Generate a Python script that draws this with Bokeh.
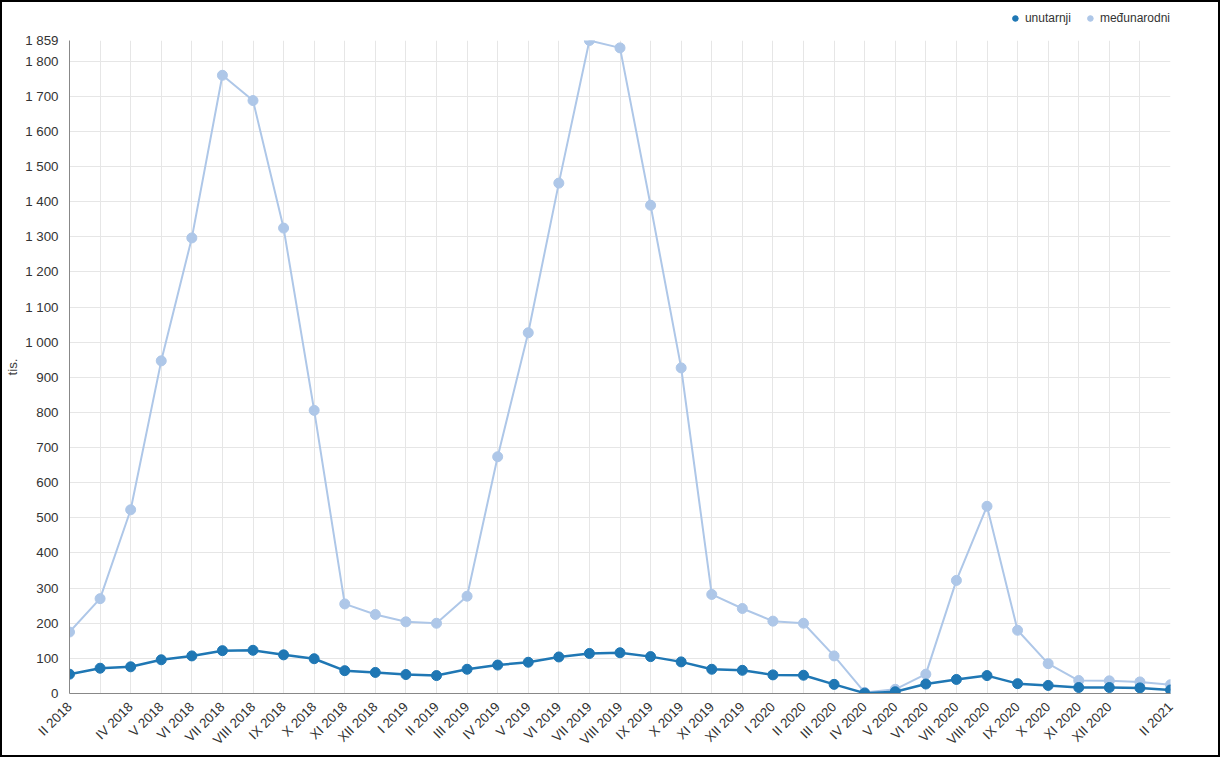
import math

from bokeh.plotting import figure
from bokeh.layouts import column
from bokeh.embed import file_html
from bokeh.resources import INLINE
from bokeh.models import ColumnDataSource, FixedTicker, Legend, LegendItem

months = ['II 2018', 'III 2018', 'IV 2018', 'V 2018', 'VI 2018', 'VII 2018', 'VIII 2018', 'IX 2018',
          'X 2018', 'XI 2018', 'XII 2018', 'I 2019', 'II 2019', 'III 2019', 'IV 2019', 'V 2019',
          'VI 2019', 'VII 2019', 'VIII 2019', 'IX 2019', 'X 2019', 'XI 2019', 'XII 2019', 'I 2020',
          'II 2020', 'III 2020', 'IV 2020', 'V 2020', 'VI 2020', 'VII 2020', 'VIII 2020', 'IX 2020',
          'X 2020', 'XI 2020', 'XII 2020', 'I 2021', 'II 2021']
hidden_labels = ['III 2018', 'I 2021']
domestic = [55, 72, 76, 96, 107, 122, 123, 110, 99, 65, 60, 54, 51, 69, 81, 89, 104, 114, 116, 105,
            90, 69, 66, 53, 52, 26, 1, 5, 27, 40, 51, 28, 23, 17, 17, 16, 10]
international = [175, 270, 523, 947, 1297, 1760, 1688, 1325, 806, 255, 225, 204, 200, 277, 674, 1027,
                 1453, 1859, 1838, 1390, 927, 282, 242, 206, 200, 107, 3, 12, 55, 322, 533, 180,
                 85, 37, 36, 33, 25]
series_names = ['unutarnji', 'međunarodni']
y_ticks = list(range(0, 1801, 100)) + [1859]

dark_blue = '#1f77b4'
light_blue = '#aec7e8'

idx = list(range(len(months)))
source = ColumnDataSource({'x': idx, 'dom': domestic, 'intl': international})

# legend strip on top
lg = figure(width=1216, height=26, output_backend='svg', toolbar_location=None,
            min_border=0, x_range=(0, 1), y_range=(0, 1))
lg.axis.visible = False
lg.grid.visible = False
lg.outline_line_color = None
offscreen = ColumnDataSource({'x': [-5], 'y': [-5]})
d_dom = lg.scatter('x', 'y', source=offscreen, size=12, color=dark_blue)
d_intl = lg.scatter('x', 'y', source=offscreen, size=12, color=light_blue)
legend = Legend(items=[LegendItem(label=series_names[0], renderers=[d_dom]),
                       LegendItem(label=series_names[1], renderers=[d_intl])],
                orientation='horizontal', location='bottom_right',
                label_text_font_size='9pt', label_text_color='#333333',
                border_line_color=None, background_fill_alpha=0,
                glyph_width=14, spacing=12, padding=0, margin=0, label_standoff=3)
lg.add_layout(legend)
lg.min_border_right = 48

p = figure(width=1216, height=727, output_backend='svg', toolbar_location=None,
           x_range=(0, len(months) - 1), y_range=(0, 1859),
           min_border_left=50, min_border_right=0, min_border_top=12, min_border_bottom=10)
p.outline_line_color = None

p.line('x', 'intl', source=source, line_color=light_blue, line_width=2)
p.scatter('x', 'intl', source=source, size=10, color=light_blue)
p.line('x', 'dom', source=source, line_color=dark_blue, line_width=2.5)
p.scatter('x', 'dom', source=source, size=10, color=dark_blue)

p.xaxis.ticker = FixedTicker(ticks=idx)
p.xaxis.major_label_overrides = {i: ('' if m in hidden_labels else m) for i, m in enumerate(months)}
p.xaxis.major_label_orientation = math.pi / 4
p.xaxis.major_label_text_font_size = '10pt'
p.xaxis.major_label_text_color = '#333333'
p.xaxis.major_tick_line_color = None
p.xaxis.axis_line_color = '#888888'

p.yaxis.ticker = FixedTicker(ticks=y_ticks)
p.yaxis.major_label_overrides = {t: (f'{t:,}'.replace(',', ' ')) for t in y_ticks}
p.yaxis.major_label_text_font_size = '10pt'
p.yaxis.major_label_text_color = '#333333'
p.yaxis.major_tick_line_color = None
p.yaxis.minor_tick_line_color = None
p.yaxis.axis_line_color = '#888888'
p.yaxis.axis_label = 'tis.'
p.yaxis.axis_label_text_font_size = '10pt'
p.yaxis.axis_label_text_font_style = 'normal'
p.yaxis.axis_label_standoff = 2

p.xgrid.grid_line_color = '#e6e6e6'
p.ygrid.grid_line_color = '#e6e6e6'
p.ygrid.ticker = FixedTicker(ticks=list(range(0, 1801, 100)))

layout = column(lg, p, spacing=0, styles={'border': '2px solid black'})

open('out.html', 'w').write(file_html(layout, INLINE))
